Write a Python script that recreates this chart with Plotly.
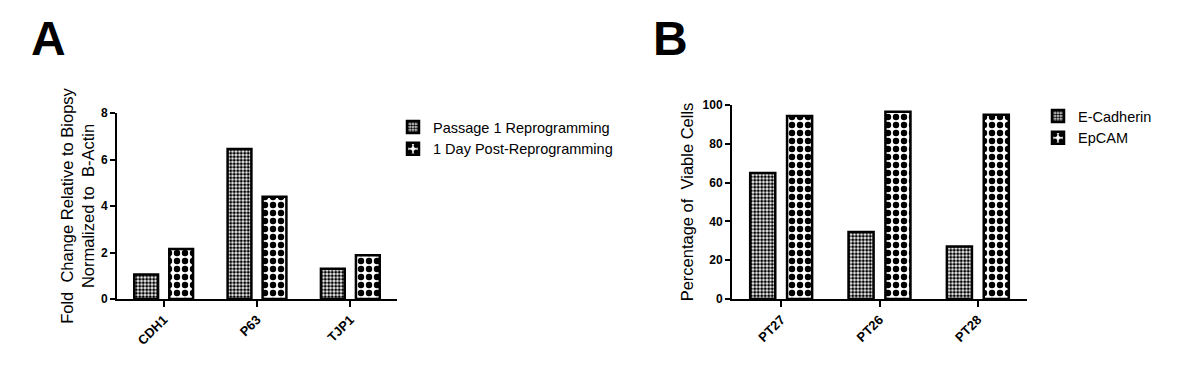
import plotly.graph_objects as go

# Panel A data
genes = ["CDH1", "P63", "TJP1"]
passage1 = [1.05, 6.45, 1.3]
day1_post = [2.15, 4.4, 1.88]

# Panel B data
patients = ["PT27", "PT26", "PT28"]
ecadherin = [65, 34.5, 27]
epcam = [94.3, 96.5, 95]

FONT = "Arial, Liberation Sans, sans-serif"
H = 382
W = 1200

def py(px):
    return 1 - px / H

fine = dict(shape=".", size=3.5, solidity=0.6, fgcolor="black", bgcolor="white", fgopacity=1)
coarse = dict(shape=".", size=8, solidity=0.5, fgcolor="black", bgcolor="white", fgopacity=1)
line = dict(color="black", width=2.5)

fig = go.Figure()
fig.add_trace(go.Bar(x=genes, y=passage1, name="Passage 1 Reprogramming",
                     marker=dict(color="white", pattern=fine, line=line),
                     xaxis="x", yaxis="y", legend="legend"))
fig.add_trace(go.Bar(x=genes, y=day1_post, name="1 Day Post-Reprogramming",
                     marker=dict(color="white", pattern=coarse, line=line),
                     xaxis="x", yaxis="y", legend="legend"))
fig.add_trace(go.Bar(x=patients, y=ecadherin, name="E-Cadherin",
                     marker=dict(color="white", pattern=fine, line=line),
                     xaxis="x2", yaxis="y2", legend="legend2"))
fig.add_trace(go.Bar(x=patients, y=epcam, name="EpCAM",
                     marker=dict(color="white", pattern=coarse, line=line),
                     xaxis="x2", yaxis="y2", legend="legend2"))

xcommon = dict(showline=True, linecolor="black", linewidth=2, ticks="outside",
               ticklen=6, tickwidth=2, tickcolor="black", tickangle=-45,
               tickfont=dict(family=FONT, size=13, color="black", weight="bold"),
               showgrid=False, zeroline=False, range=[-0.5, 2.5], fixedrange=True,
               automargin=False)
ycommon = dict(showline=True, linecolor="black", linewidth=2, ticks="outside",
               ticklen=5, tickwidth=2, tickcolor="black",
               tickfont=dict(family=FONT, size=12, color="black", weight="bold"),
               showgrid=False, zeroline=False, fixedrange=True, automargin=False)

fig.update_layout(
    template="none",
    width=W, height=H,
    margin=dict(l=0, r=0, t=0, b=0, pad=0),
    paper_bgcolor="white", plot_bgcolor="white",
    barmode="group", bargap=0.25, bargroupgap=0.32,
    font=dict(family=FONT, color="black"),
    xaxis=dict(domain=[117 / W, 397 / W], anchor="y", **xcommon),
    yaxis=dict(domain=[py(299), py(113)], anchor="x", range=[0, 8],
               tickvals=[0, 2, 4, 6, 8],
               title=dict(text="Fold  Change Relative to Biopsy<br>Normalized to  B-Actin",
                          font=dict(family=FONT, size=16.5, color="black"), standoff=2),
               **ycommon),
    xaxis2=dict(domain=[732 / W, 1027 / W], anchor="y2", **xcommon),
    yaxis2=dict(domain=[py(299), py(105)], anchor="x2", range=[0, 100],
                tickvals=[0, 20, 40, 60, 80, 100],
                title=dict(text="Percentage of  Viable Cells",
                           font=dict(family=FONT, size=16.5, color="black"), standoff=5),
                **ycommon),
    legend=dict(x=393 / W, y=py(111), xanchor="left", yanchor="top",
                font=dict(family=FONT, size=14.5, color="black"),
                bgcolor="rgba(0,0,0,0)", tracegroupgap=0),
    legend2=dict(x=1038 / W, y=py(100), xanchor="left", yanchor="top",
                 font=dict(family=FONT, size=14.5, color="black"),
                 bgcolor="rgba(0,0,0,0)", tracegroupgap=0),
    annotations=[
        dict(text="<b>A</b>", x=29 / W, y=py(10), xref="paper", yref="paper",
             xanchor="left", yanchor="top", showarrow=False,
             font=dict(family=FONT, size=48, color="black")),
        dict(text="<b>B</b>", x=651 / W, y=py(10), xref="paper", yref="paper",
             xanchor="left", yanchor="top", showarrow=False,
             font=dict(family=FONT, size=48, color="black")),
    ],
)

fig.write_html("out.html", config={"displayModeBar": False},
               post_script="document.body.style.margin='0';")
